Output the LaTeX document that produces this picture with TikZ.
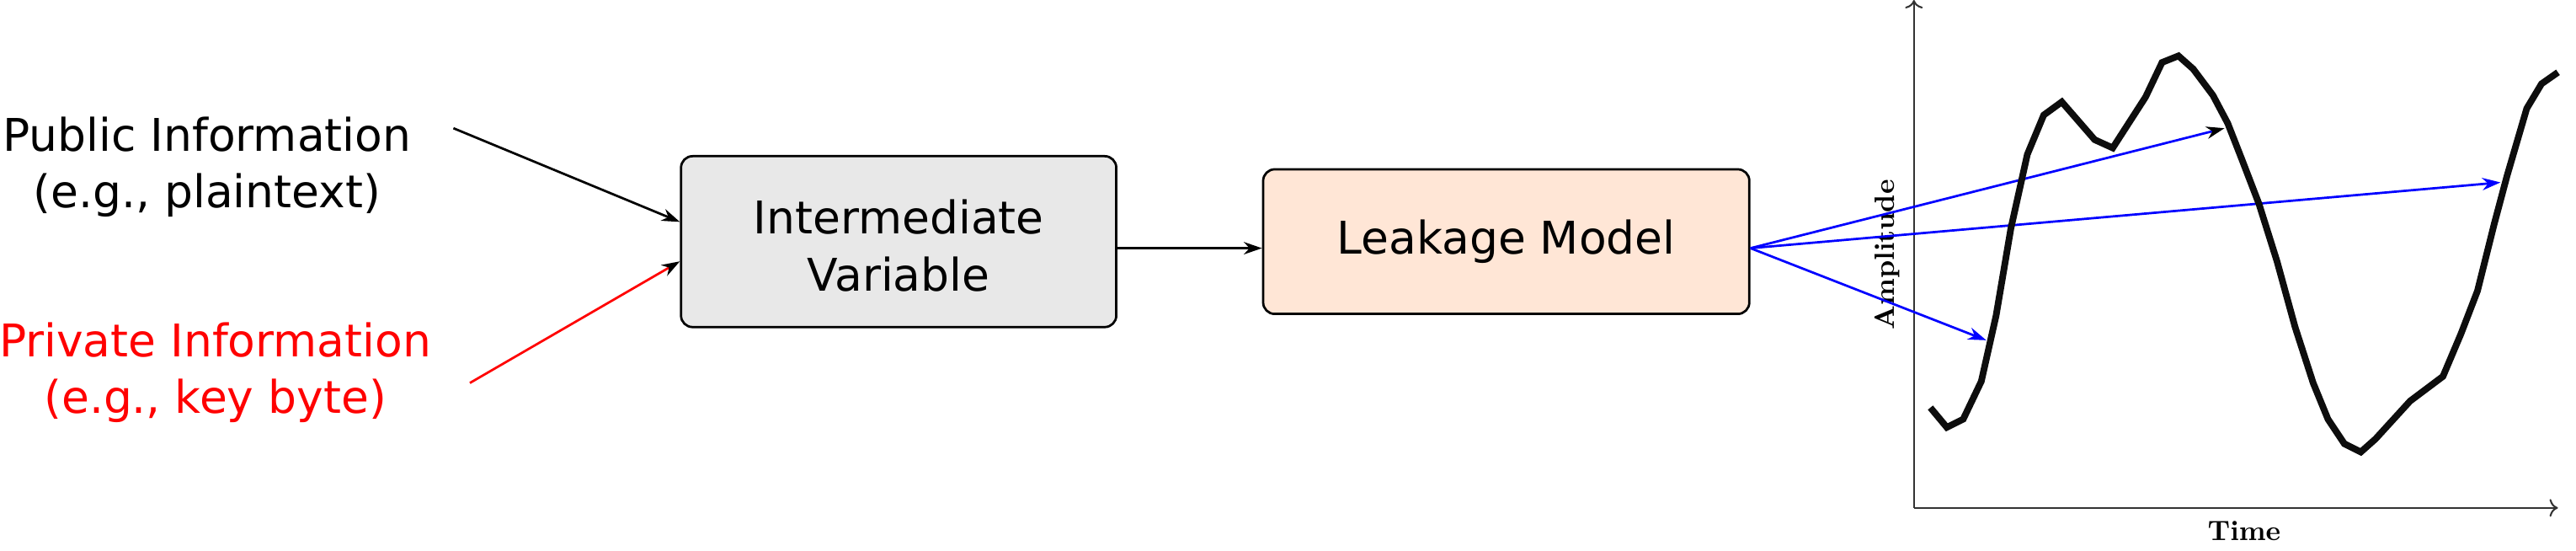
\documentclass[tikz,border=0pt]{standalone}
\usepackage{fontspec}
\newfontfamily\dejavu{DejaVu Sans}
\usetikzlibrary{arrows.meta,positioning}
\definecolor{boxgray}{HTML}{E8E8E8}
\definecolor{peach}{HTML}{FFE6D6}

\begin{document}
\begin{tikzpicture}[
x=0.02cm, y=-0.02cm,
info/.style={font=\dejavu\fontsize{15.6}{19.6}\selectfont, align=center, inner sep=0pt},
box/.style={draw, line width=0.8pt, rounded corners=4pt, align=center, inner sep=0pt, font=\dejavu\fontsize{15.6}{19.6}\selectfont},
arrow/.style={-{Stealth[length=6.3pt, width=4.3pt, inset=2pt, black]}, line width=0.8pt},
axis/.style={->, line width=0.6pt, black!80},
axislabel/.style={font=\bfseries\fontsize{9.7}{11}\selectfont, inner sep=0pt},
trace/.style={line width=2.3pt, black!95}
]
\useasboundingbox (0,0) rectangle (1568,335);

\node[info] (public) at (126,101.5) {Public Information\\(e.g., plaintext)};
\node[info, red] (private) at (131,226.5) {Private Information\\(e.g., key byte)};
\node[box, fill=boxgray, minimum width=5.3cm, minimum height=2.08cm] (iv) at (547,147) {\rule{0pt}{14.6pt}Intermediate\\Variable};
\node[box, fill=peach, minimum width=5.92cm, minimum height=1.76cm, right=1.76cm of iv] (leak) {Leakage Model};

\coordinate (pubout) at (276,78);
\coordinate (privout) at (286,233);
\draw[arrow] (pubout) -- ([yshift=0.24cm]iv.west);
\draw[arrow, red] (privout) -- ([yshift=-0.24cm]iv.west);
\draw[arrow] ([yshift=-0.08cm]iv.east) -- ([yshift=-0.08cm]leak.west);

% trace
\coordinate (origin) at (1165,309);
\draw[axis] (origin) -- (1165,0);
\draw[axis] (origin) -- (1557,309);
\node[axislabel] (time) at (1366,323) {Time};
\node[axislabel, rotate=90] (amp) at (1149,155) {Amplitude};

\coordinate (fall) at (1354,78);
\coordinate (rise) at (1522,111);
\coordinate (start) at (1209,207);
\draw[arrow, blue] ([yshift=-0.08cm]leak.east) -- (fall);
\draw[arrow, blue, -{Stealth[length=6.3pt, width=4.3pt, inset=2pt, blue]}] ([yshift=-0.08cm]leak.east) -- (rise);
\draw[arrow, blue, -{Stealth[length=6.3pt, width=4.3pt, inset=2pt, blue]}] ([yshift=-0.08cm]leak.east) -- (start);

\draw[trace] plot coordinates {(1175,248) (1185,260) (1195,255) (1206,232) (1215,192) (1224,139)
  (1234,94) (1244,70) (1255,62) (1275,85) (1286,90) (1306,59) (1316,38) (1326,34) (1335,42)
  (1347,58) (1356,75) (1365,98) (1375,124) (1386,159) (1397,199) (1408,233) (1417,255)
  (1427,270) (1437,275) (1446,267) (1467,244) (1487,229) (1498,203) (1508,177) (1518,137)
  (1526,107) (1538,66) (1547,51) (1557,44)};

\end{tikzpicture}
\end{document}
